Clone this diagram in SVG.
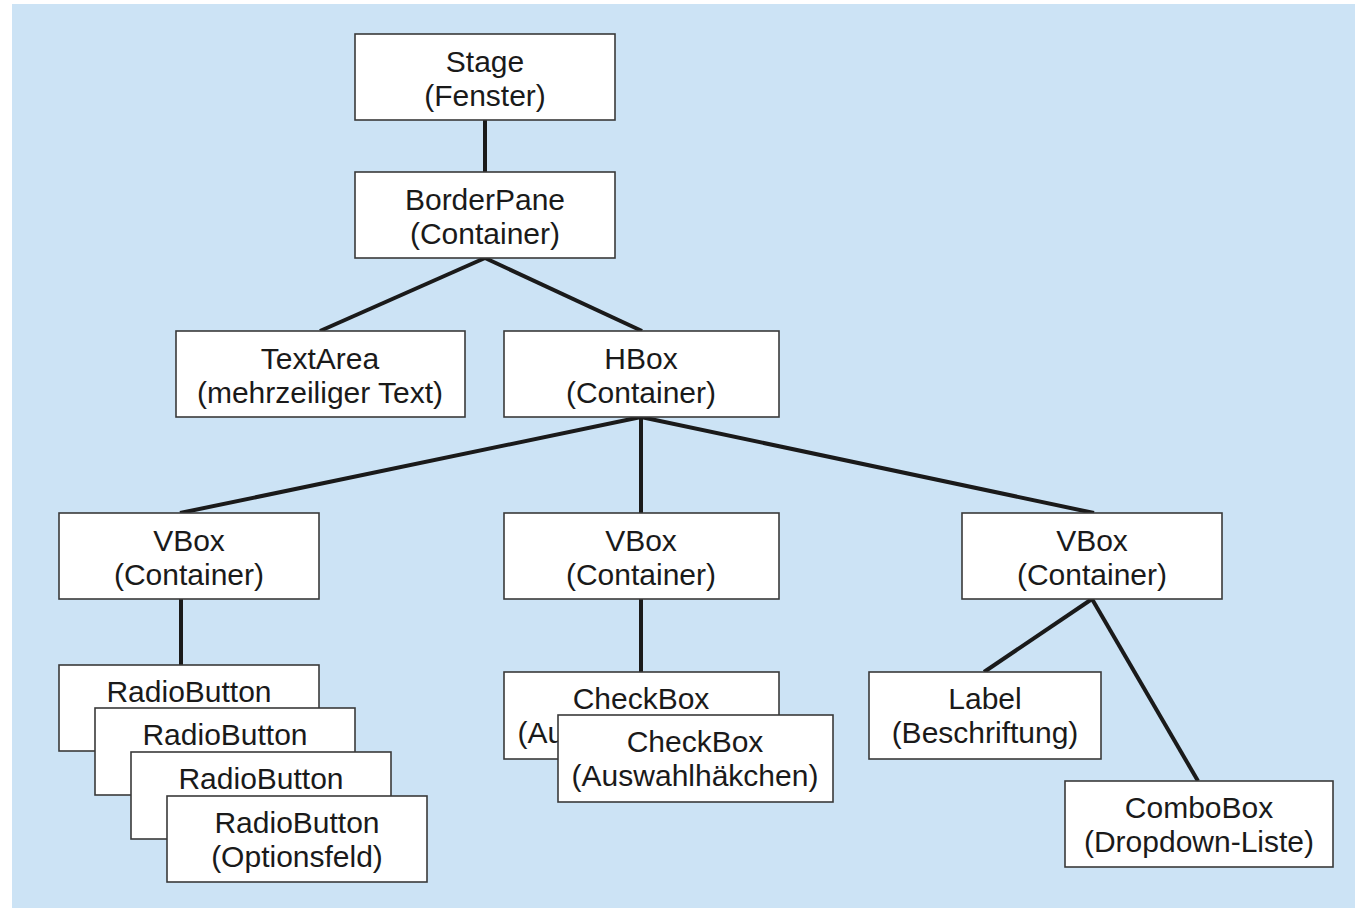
<svg xmlns="http://www.w3.org/2000/svg" width="1355" height="910" viewBox="0 0 1355 910">
<style>
.box{fill:#fff;stroke:#3a3a3a;stroke-width:1.6}
.t{font-family:"Liberation Sans",Arial,sans-serif;font-size:30px;fill:#1a1a1a;text-anchor:middle}
.c{stroke:#1a1a1a;stroke-width:4;fill:none}
</style>
<rect x="12" y="4" width="1343" height="904" fill="#cce3f5"/>
<g id="connectors">
<line class="c" x1="485" y1="120" x2="485" y2="172"/>
<line class="c" x1="485" y1="258" x2="320" y2="331"/>
<line class="c" x1="485" y1="258" x2="642" y2="331"/>
<line class="c" x1="641" y1="417" x2="180" y2="513"/>
<line class="c" x1="641" y1="417" x2="641" y2="513"/>
<line class="c" x1="641" y1="417" x2="1094" y2="513"/>
<line class="c" x1="181" y1="599" x2="181" y2="665"/>
<line class="c" x1="641" y1="599" x2="641" y2="672"/>
<line class="c" x1="1092" y1="599" x2="984" y2="672"/>
<line class="c" x1="1092" y1="599" x2="1198" y2="781"/>
</g>
<g id="stage"><rect class="box" x="355" y="34" width="260" height="86"/><text class="t" y="72"><tspan x="485">Stage</tspan><tspan x="485" dy="34">(Fenster)</tspan></text></g>
<g id="borderpane"><rect class="box" x="355" y="172" width="260" height="86"/><text class="t" y="210"><tspan x="485">BorderPane</tspan><tspan x="485" dy="34">(Container)</tspan></text></g>
<g id="textarea"><rect class="box" x="176" y="331" width="289" height="86"/><text class="t" y="369"><tspan x="320">TextArea</tspan><tspan x="320" dy="34">(mehrzeiliger Text)</tspan></text></g>
<g id="hbox"><rect class="box" x="504" y="331" width="275" height="86"/><text class="t" y="369"><tspan x="641">HBox</tspan><tspan x="641" dy="34">(Container)</tspan></text></g>
<g id="vbox1"><rect class="box" x="59" y="513" width="260" height="86"/><text class="t" y="551"><tspan x="189">VBox</tspan><tspan x="189" dy="34">(Container)</tspan></text></g>
<g id="vbox2"><rect class="box" x="504" y="513" width="275" height="86"/><text class="t" y="551"><tspan x="641">VBox</tspan><tspan x="641" dy="34">(Container)</tspan></text></g>
<g id="vbox3"><rect class="box" x="962" y="513" width="260" height="86"/><text class="t" y="551"><tspan x="1092">VBox</tspan><tspan x="1092" dy="34">(Container)</tspan></text></g>
<g id="radio1"><rect class="box" x="59" y="665" width="260" height="86"/><text class="t" x="189" y="702">RadioButton</text></g>
<g id="radio2"><rect class="box" x="95" y="708" width="260" height="87"/><text class="t" x="225" y="745">RadioButton</text></g>
<g id="radio3"><rect class="box" x="131" y="752" width="260" height="87"/><text class="t" x="261" y="789">RadioButton</text></g>
<g id="radio4"><rect class="box" x="167" y="796" width="260" height="86"/><text class="t" y="833"><tspan x="297">RadioButton</tspan><tspan x="297" dy="34">(Optionsfeld)</tspan></text></g>
<g id="checkbox1"><rect class="box" x="504" y="672" width="275" height="87"/><text class="t" y="709"><tspan x="641">CheckBox</tspan><tspan x="641" dy="34">(Auswahlhäkchen)</tspan></text></g>
<g id="checkbox2"><rect class="box" x="558" y="715" width="275" height="87"/><text class="t" y="752"><tspan x="695">CheckBox</tspan><tspan x="695" dy="34">(Auswahlhäkchen)</tspan></text></g>
<g id="label"><rect class="box" x="869" y="672" width="232" height="87"/><text class="t" y="709"><tspan x="985">Label</tspan><tspan x="985" dy="34">(Beschriftung)</tspan></text></g>
<g id="combobox"><rect class="box" x="1065" y="781" width="268" height="86"/><text class="t" y="818"><tspan x="1199">ComboBox</tspan><tspan x="1199" dy="34">(Dropdown-Liste)</tspan></text></g>
</svg>
